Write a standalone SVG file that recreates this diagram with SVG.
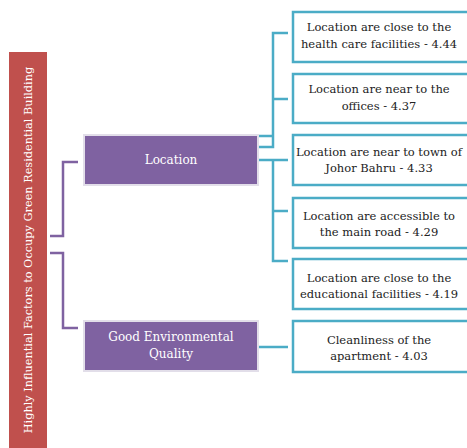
<svg xmlns="http://www.w3.org/2000/svg" width="467" height="448" viewBox="0 0 467 448">
<style>
.cat{fill:#7F62A1;stroke:#E2DEE9;stroke-width:2}
.leaf{fill:#fff;stroke:#4BACC6;stroke-width:2.5}
.pl{fill:none;stroke:#7F62A1;stroke-width:2.5}
.tl{fill:none;stroke:#4BACC6;stroke-width:2.5}
.wt{font-family:"DejaVu Serif","Liberation Serif",serif;font-size:12px;fill:#fff;text-anchor:middle}
.rt{font-family:"DejaVu Serif","Liberation Serif",serif;font-size:11.3px;fill:#fff;text-anchor:middle}
.bt{font-family:"DejaVu Serif","Liberation Serif",serif;font-size:11.5px;fill:#222;text-anchor:middle}
</style>
<rect width="467" height="448" fill="#fff"/>
<g id="root">
<rect x="9" y="52" width="38" height="400" fill="#C0504D"/>
<text class="rt" transform="translate(32,250) rotate(-90)">Highly Influential Factors to Occupy Green Residential Building</text>
</g>
<g id="connectors">
<path class="pl" d="M50,236 H63 V162 H78"/>
<path class="pl" d="M50,253 H63 V328 H78"/>
<path class="tl" d="M288,33 H273 V147 H259 M288,99 H273 M273,136 H259"/>
<path class="tl" d="M259,160 H288 M273,160 V261 H288 M273,211 H288"/>
<path class="tl" d="M258,347 H288"/>
</g>
<g id="location">
<rect class="cat" x="84" y="135" width="174" height="50"/>
<text class="wt" x="171" y="164">Location</text>
</g>
<g id="environment">
<rect class="cat" x="84" y="321" width="174" height="50"/>
<text class="wt" x="171" y="341">Good Environmental</text>
<text class="wt" x="171" y="358">Quality</text>
</g>
<g id="f1">
<rect class="leaf" x="293" y="12" width="180" height="50"/>
<text class="bt" x="379" y="31">Location are close to the</text>
<text class="bt" x="379" y="48">health care facilities - 4.44</text>
</g>
<g id="f2">
<rect class="leaf" x="293" y="74" width="180" height="49"/>
<text class="bt" x="379" y="93">Location are near to the</text>
<text class="bt" x="379" y="110">offices - 4.37</text>
</g>
<g id="f3">
<rect class="leaf" x="293" y="135" width="180" height="50"/>
<text class="bt" x="379" y="156">Location are near to town of</text>
<text class="bt" x="379" y="172">Johor Bahru - 4.33</text>
</g>
<g id="f4">
<rect class="leaf" x="293" y="198" width="180" height="50"/>
<text class="bt" x="379" y="220">Location are accessible to</text>
<text class="bt" x="379" y="236">the main road - 4.29</text>
</g>
<g id="f5">
<rect class="leaf" x="293" y="259" width="180" height="50"/>
<text class="bt" x="379" y="282">Location are close to the</text>
<text class="bt" x="379" y="298">educational facilities - 4.19</text>
</g>
<g id="f6">
<rect class="leaf" x="293" y="321" width="180" height="51"/>
<text class="bt" x="379" y="344">Cleanliness of the</text>
<text class="bt" x="379" y="360">apartment - 4.03</text>
</g>
</svg>
